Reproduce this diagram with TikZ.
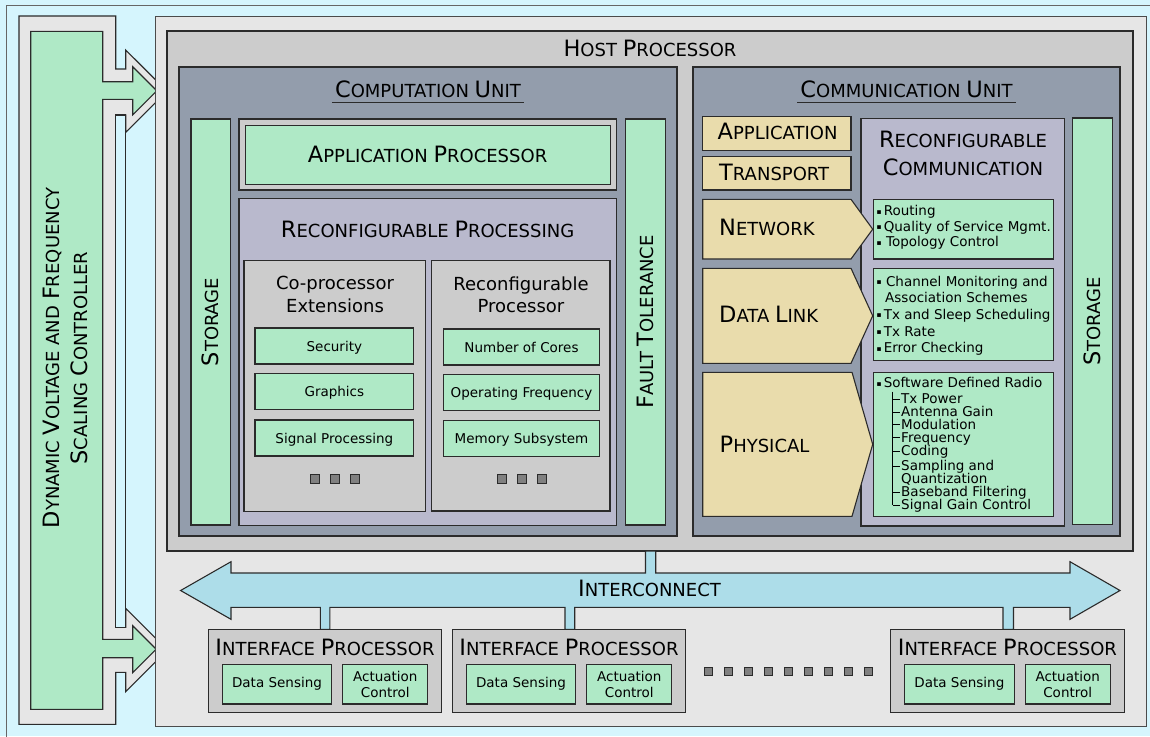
\documentclass[tikz,border=0pt]{standalone}
\usepackage{fontspec}
\setmainfont{DejaVu Sans}
\usepackage{graphicx}
\usetikzlibrary{calc}
\definecolor{bgblue}{HTML}{D5F5FD}
\definecolor{lgray}{HTML}{E6E6E6}
\definecolor{mgray}{HTML}{CCCCCC}
\definecolor{slate}{HTML}{939DAC}
\definecolor{lav}{HTML}{B9B9CD}
\definecolor{mint}{HTML}{AFE9C6}
\definecolor{tan}{HTML}{E9DCAC}
\definecolor{icblue}{HTML}{ADDDE9}
\definecolor{dotgray}{HTML}{808080}
\definecolor{edge}{HTML}{2B2B2B}
\newcommand\K[1]{\scalebox{1.25}{#1}}
\newcommand\bul{\makebox[8.6pt][l]{\hspace{1.4pt}\raisebox{1.3pt}{\scalebox{0.55}{▪}}}}
\newcommand\hfont{\fontsize{18}{21}\selectfont}
\newcommand\mfont{\fontsize{18}{23}\selectfont}
\newcommand\sfont{\fontsize{13.5}{16}\selectfont}
\newcommand\rbox[7]{%
  \pgfmathsetmacro\rbX{((#3)+(#5))/2}%
  \pgfmathsetmacro\rbY{((#4)+(#6))/2}%
  \pgfmathsetmacro\rbW{(#5)-(#3)}%
  \pgfmathsetmacro\rbH{(#6)-(#4)}%
  \node[rectangle, inner sep=0pt, outer sep=0pt, minimum width=\rbW pt, minimum height=\rbH pt, #1] (#2) at (\rbX,\rbY) {#7};}
\begin{document}
\begin{tikzpicture}[x=1pt,y=-1pt,
  frame/.style={draw=edge, line width=1.1pt},
  hdr/.style={font=\hfont, inner sep=0pt, anchor=base},
  rot/.style={font=\hfont, inner sep=0pt, anchor=center, rotate=90},
  mtxt/.style={font=\mfont, inner sep=0pt, anchor=base},
  smw/.style={font=\sfont, inner sep=0pt, anchor=base west},
  item/.style={frame, fill=mint, font=\sfont, text height=10.6pt, text depth=0pt},
  dotsq/.style={fill=dotgray, draw=edge, line width=0.8pt},
  uline/.style={draw=edge, line width=1.2pt}]
\useasboundingbox (0,0) rectangle (1150,736);
\fill[bgblue] (0,0) rectangle (1150,736);
\draw[draw=black!60, line width=1pt] (6,745) -- (6,5) -- (1160,5);

% DVFS controller with arrows
\draw[fill=lgray, frame] (19,16) -- (115.7,16) -- (115.7,69) -- (125.7,69) -- (125.7,50)
  -- (167,91.2) -- (125.7,132.4) -- (125.7,115) -- (115.7,115) -- (115.7,627.3)
  -- (125.7,627.3) -- (125.7,608.3) -- (167.4,650) -- (125.7,691.7) -- (125.7,672.3)
  -- (115.7,672.3) -- (115.7,724.3) -- (19,724.3) -- cycle;
\draw[fill=bgblue, frame] (115.7,115) rectangle (125.7,627.3);
\draw[fill=mint, frame] (30.7,31.3) -- (102.7,31.3) -- (102.7,81.7) -- (132.7,81.7) -- (132.7,66.7)
  -- (156.8,90.8) -- (132.7,114.9) -- (132.7,99.3) -- (102.7,99.3) -- (102.7,639.3)
  -- (132.7,639.3) -- (132.7,625.7) -- (156.2,649.2) -- (132.7,672.7) -- (132.7,657.7)
  -- (102.7,657.7) -- (102.7,709.3) -- (30.7,709.3) -- cycle;
\node[font=\fontsize{18}{27.6}\selectfont, align=center, rotate=90, inner sep=0pt] (dvfs) at (65.5,358)
  {\K{D}YNAMIC \K{V}OLTAGE AND \K{F}REQUENCY\\\K{S}CALING \K{C}ONTROLLER};

% host
\rbox{fill=lgray, draw=edge!85, line width=1pt}{host}{155}{16.5}{1146}{726}{}
\rbox{fill=mgray, frame}{hostp}{167}{31}{1133}{551}{}
\node[hdr] (hostlbl) at (650,56.5) {\K{H}OST \K{P}ROCESSOR};

% computation unit
\rbox{fill=slate, frame}{cu}{179}{67}{677}{536}{}
\node[hdr] (culbl) at (428,97.3) {\K{C}OMPUTATION \K{U}NIT};
\draw[uline] ($(culbl.base west)+(-3,5)$) -- ($(culbl.base east)+(3,5)$);
\rbox{fill=mint, frame}{stl}{191}{119}{230.3}{525}{}
\node[rot] (stllbl) at (210.6,322) {\K{S}TORAGE};
\rbox{fill=mgray, frame}{apo}{239}{119}{616.3}{190}{}
\rbox{fill=mint, draw=edge, line width=1pt}{api}{245}{125}{610.3}{184}{}
\node[hdr] (apilbl) at (427.6,162.7) {\K{A}PPLICATION \K{P}ROCESSOR};
\rbox{fill=mint, frame}{ft}{625.5}{119}{665.3}{525}{}
\node[rot] (ftlbl) at (645.4,322) {\K{F}AULT \K{T}OLERANCE};
\rbox{fill=lav, frame}{rp}{239}{198.3}{616.3}{525.3}{}
\node[hdr] (rplbl) at (427.6,237) {\K{R}ECONFIGURABLE \K{P}ROCESSING};
\rbox{fill=mgray, frame}{cop}{244}{260.7}{425.7}{511.7}{}
\node[mtxt] (cop1) at (335,289.3) {Co-processor};
\node[mtxt] (cop2) at (335,312.3) {Extensions};
\rbox{fill=mgray, frame}{rpr}{431.7}{260.7}{610}{511}{}
\node[mtxt] (rpr1) at (521,290) {Reconfigurable};
\node[mtxt] (rpr2) at (521,312.7) {Processor};
\rbox{item}{sec}{255}{328}{413.7}{364}{Security}
\rbox{item}{gra}{255}{373.3}{413.7}{409.3}{Graphics}
\rbox{item}{sig}{255}{420}{413.7}{456}{Signal Processing}
\rbox{item}{noc}{443.3}{329}{599.7}{365}{Number of Cores}
\rbox{item}{opf}{443.3}{374.3}{599.7}{410.3}{Operating Frequency}
\rbox{item}{mem}{443.3}{420.3}{599.7}{456.3}{Memory Subsystem}
\foreach \xx in {310.3,330.3,350.3,497.3,517.3,537.3}
  \draw[dotsq] (\xx,474.3) rectangle ++(8.7,8.7);

% communication unit
\rbox{fill=slate, frame}{cmu}{693}{67}{1120}{536}{}
\node[hdr] (cmulbl) at (906.5,97.3) {\K{C}OMMUNICATION \K{U}NIT};
\draw[uline] ($(cmulbl.base west)+(-3,5)$) -- ($(cmulbl.base east)+(3,5)$);
\rbox{fill=mint, frame}{str}{1072.3}{118}{1112.3}{524.5}{}
\node[rot] (strlbl) at (1092.3,321.5) {\K{S}TORAGE};
\rbox{fill=lav, frame}{rc}{861}{118.3}{1064.7}{526}{}
\node[hdr] (rclbl1) at (963,147.3) {\K{R}ECONFIGURABLE};
\node[hdr] (rclbl2) at (963,175.5) {\K{C}OMMUNICATION};
\rbox{fill=tan, frame}{lapp}{702.7}{116.7}{851}{150.3}{}
\node[hdr, anchor=base west] (lapplbl) at (717.5,139.3) {\K{A}PPLICATION};
\rbox{fill=tan, frame}{ltr}{702.7}{156.7}{851}{190}{}
\node[hdr, anchor=base west] (ltrlbl) at (719,180.7) {\K{T}RANSPORT};
\draw[fill=tan, frame] (702.7,199.3) -- (851,199.3) -- (872.7,229.2) -- (851,259) -- (702.7,259) -- cycle;
\node[hdr, anchor=base west] (lnetlbl) at (719,235) {\K{N}ETWORK};
\draw[fill=tan, frame] (702.7,268.3) -- (851,268.3) -- (872.7,315.8) -- (851,363.3) -- (702.7,363.3) -- cycle;
\node[hdr, anchor=base west] (ldllbl) at (719,322.3) {\K{D}ATA \K{L}INK};
\draw[fill=tan, frame] (702.7,372.3) -- (852,372.3) -- (872.7,444.3) -- (852,516.3) -- (702.7,516.3) -- cycle;
\node[hdr, anchor=base west] (lphlbl) at (719.5,452.7) {\K{P}HYSICAL};

\rbox{fill=mint, frame}{gnet}{873.3}{199.3}{1053.3}{259}{}
\node[smw] (n1) at (875,215.7) {\bul Routing};
\node[smw] (n2) at (875,231) {\bul Quality of Service Mgmt.};
\node[smw] (n3) at (875,246.7) {\bul\,Topology Control};
\rbox{fill=mint, frame}{gdl}{873.3}{268.3}{1053.3}{360.3}{}
\node[smw] (d1) at (875,286) {\bul\,Channel Monitoring and};
\node[smw] (d2) at (885,302.7) {Association Schemes};
\node[smw] (d3) at (875,319) {\bul Tx and Sleep Scheduling};
\node[smw] (d4) at (875,336) {\bul Tx Rate};
\node[smw] (d5) at (875,352.3) {\bul Error Checking};
\rbox{fill=mint, frame}{gph}{873.3}{372.3}{1053.3}{516.3}{}
\node[smw] (p0) at (875,387.3) {\bul Software Defined Radio};
\draw[draw=black, line width=0.9pt] (892.7,391.5) -- (892.7,505.3);
\foreach \t/\yy [count=\i] in {Tx Power/403.7, Antenna Gain/416.7, Modulation/429.3,
    Frequency/442.3, Coding/455.7, Sampling and/470.7, Quantization/483.7,
    Baseband Filtering/496.7, Signal Gain Control/509.7}
  \node[smw] (p\i) at (901,\yy) {\t};
\foreach \yy in {403.7,416.7,429.3,442.3,455.7,470.7,496.7,509.7}
  \draw[draw=black, line width=0.9pt] (892.7,\yy-4.4) -- (900,\yy-4.4);

% interconnect
\draw[fill=icblue, frame] (180.6,590.5) -- (231,561.7) -- (231,573) -- (645.5,573) -- (645.5,551)
  -- (655.7,551) -- (655.7,573) -- (1070,573) -- (1070,561.7) -- (1120,590.5) -- (1070,619.3)
  -- (1070,607.3) -- (1013.5,607.3) -- (1013.5,629.3) -- (1003,629.3) -- (1003,607.3)
  -- (574.7,607.3) -- (574.7,629.3) -- (565,629.3) -- (565,607.3) -- (329.8,607.3)
  -- (329.8,629.3) -- (320.3,629.3) -- (320.3,607.3) -- (231,607.3) -- (231,619.3) -- cycle;
\node[hdr] (iclbl) at (649.5,596.7) {\K{I}NTERCONNECT};

% interface processors
\foreach \n/\xa in {1/208.3, 2/452.3, 3/890.7} {
  \rbox{fill=mgray, frame}{ip\n}{\xa}{629.3}{\xa+233.4}{712.3}{}
  \node[hdr] (ipl\n) at (\xa+116.7,655.7) {\K{I}NTERFACE \K{P}ROCESSOR};
  \rbox{frame, fill=mint, font=\sfont}{ds\n}{\xa+14}{664.3}{\xa+123.4}{704}{Data Sensing}
  \rbox{frame, fill=mint, font=\sfont, align=center}{ac\n}{\xa+134.5}{664.3}{\xa+219.5}{704}{Actuation\\Control}
}
\foreach \i in {0,...,8}
  \draw[dotsq] (704+20*\i,667.7) rectangle ++(8,8);
\end{tikzpicture}
\end{document}
